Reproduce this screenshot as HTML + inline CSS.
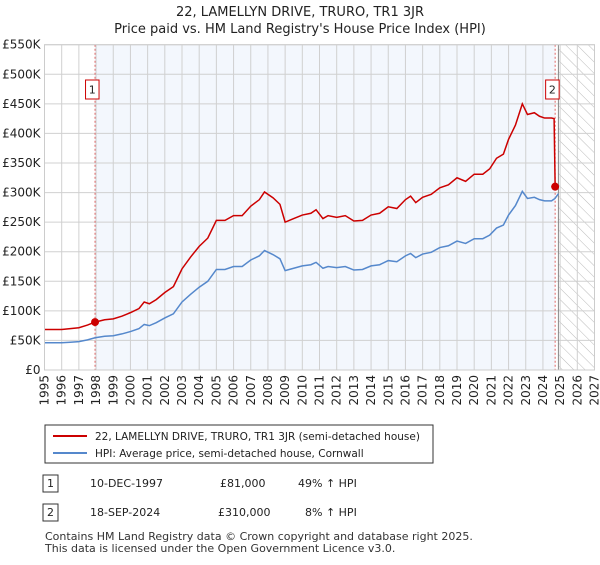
<!DOCTYPE html>
<html><head><meta charset="utf-8"><style>
body{margin:0;width:600px;height:560px;background:#fff;font-family:"Liberation Sans","DejaVu Sans",sans-serif;overflow:hidden}
svg text{font-family:"DejaVu Sans","Liberation Sans",sans-serif}
</style></head><body>
<svg id="c" width="600" height="560">
<defs><pattern id="hatch" width="8" height="8" patternUnits="userSpaceOnUse" patternTransform="rotate(-45)"><line x1="0" y1="0" x2="0" y2="8" stroke="#bbb" stroke-width="1"/></pattern></defs>
<text x="300" y="16" text-anchor="middle" font-size="13" fill="#222">22, LAMELLYN DRIVE, TRURO, TR1 3JR</text>
<text x="300" y="33" text-anchor="middle" font-size="13" fill="#222">Price paid vs. HM Land Registry's House Price Index (HPI)</text>
<g id="plot"></g>
<g>
<rect x="45" y="425" width="388" height="38" fill="#fff" stroke="#333"/>
<line x1="53" y1="436" x2="87" y2="436" stroke="#cc0000" stroke-width="2"/>
<text x="95" y="440" font-size="10.5" fill="#222">22, LAMELLYN DRIVE, TRURO, TR1 3JR (semi-detached house)</text>
<line x1="53" y1="453" x2="87" y2="453" stroke="#5588cc" stroke-width="2"/>
<text x="95" y="457" font-size="10.5" fill="#222">HPI: Average price, semi-detached house, Cornwall</text>
</g>
<g font-size="11" fill="#222">
<rect x="43" y="475" width="15" height="17" fill="#fff" stroke="#333"/><text x="50.5" y="487" text-anchor="middle">1</text>
<text x="90" y="487">10-DEC-1997</text><text x="220" y="487">£81,000</text><text x="298" y="487">49% ↑ HPI</text>
<rect x="43" y="504" width="15" height="17" fill="#fff" stroke="#333"/><text x="50.5" y="516" text-anchor="middle">2</text>
<text x="90" y="516">18-SEP-2024</text><text x="218" y="516">£310,000</text><text x="305" y="516">8% ↑ HPI</text>
</g>
<text x="45" y="540" font-size="11" fill="#333">Contains HM Land Registry data © Crown copyright and database right 2025.</text>
<text x="45" y="552" font-size="11" fill="#333">This data is licensed under the Open Government Licence v3.0.</text>
</svg>
<script>
const hpiYears=[1995,1995.5,1996,1996.5,1997,1997.5,1997.94,1998.5,1999,1999.5,2000,2000.5,2000.8,2001.1,2001.5,2002,2002.5,2003,2003.5,2004,2004.5,2005,2005.5,2006,2006.5,2007,2007.5,2007.8,2008.3,2008.7,2009,2009.5,2010,2010.5,2010.8,2011.2,2011.5,2012,2012.5,2013,2013.5,2014,2014.5,2015,2015.5,2016,2016.3,2016.6,2017,2017.5,2018,2018.5,2019,2019.5,2020,2020.5,2020.9,2021.3,2021.7,2022,2022.4,2022.8,2023.1,2023.5,2023.8,2024.1,2024.5,2024.7,2024.9];
const hpiValues=[46,46,46,47,48,51,54.5,57,58,61,65,70,77,75,80,88,95,115,128,140,150,170,170,175,175,186,193,202,195,188,168,172,176,178,182,172,175,173,175,169,170,176,178,185,183,193,197,190,196,199,207,210,218,214,222,222,228,240,245,262,278,302,290,292,288,286,286,290,298];
const priceYears=[1995,1995.5,1996,1996.5,1997,1997.5,1997.94,1998.5,1999,1999.5,2000,2000.5,2000.8,2001.1,2001.5,2002,2002.5,2003,2003.5,2004,2004.5,2005,2005.5,2006,2006.5,2007,2007.5,2007.8,2008.3,2008.7,2009,2009.5,2010,2010.5,2010.8,2011.2,2011.5,2012,2012.5,2013,2013.5,2014,2014.5,2015,2015.5,2016,2016.3,2016.6,2017,2017.5,2018,2018.5,2019,2019.5,2020,2020.5,2020.9,2021.3,2021.7,2022,2022.4,2022.8,2023.1,2023.5,2023.8,2024.1,2024.5,2024.65,2024.71];
const priceValues=[68.5,68.5,68.5,70,71.5,76,81,85,86.4,91,97,104,115,112,119,131,141,171,191,209,223,253,253,261,261,277,288,301,291,280,250,256,262,265,271,256,261,258,261,252,253,262,265,276,273,288,294,283,292,297,308,313,325,319,331,331,340,358,365,390,414,450,432,435,429,426,426,425,310];
const saleYears=[1997.94,2024.71];
const saleValues=[81,310];
const saleLabels=["1","2"];
const yTicks=[0,50,100,150,200,250,300,350,400,450,500,550];
const yTickLabels=["£0","£50K","£100K","£150K","£200K","£250K","£300K","£350K","£400K","£450K","£500K","£550K"];
const xTicks=[1995,1996,1997,1998,1999,2000,2001,2002,2003,2004,2005,2006,2007,2008,2009,2010,2011,2012,2013,2014,2015,2016,2017,2018,2019,2020,2021,2022,2023,2024,2025,2026,2027];
const X0=44.5,X1=594.5,Y0=370,Y1=44.7,xmin=1995,xmax=2027,ymax=550,forecastStart=2024.9;
const sx=v=>X0+(v-xmin)/(xmax-xmin)*(X1-X0);
const sy=v=>Y0-v/ymax*(Y0-Y1);
const NS="http://www.w3.org/2000/svg";
const g=document.getElementById('plot');
function mk(t,a,p){const e=document.createElementNS(NS,t);for(const k in a)e.setAttribute(k,a[k]);(p||g).appendChild(e);return e;}
let sh=mk('rect',{x:sx(saleYears[0]),y:Y1,width:sx(saleYears[1])-sx(saleYears[0]),height:Y0-Y1,fill:'#eef3fc',opacity:0.7});


let hf=mk('rect',{x:sx(forecastStart),y:Y1,width:X1-sx(forecastStart),height:Y0-Y1,fill:'url(#hatch)'});


xTicks.forEach(t=>{const l=mk('line',{x1:sx(t),x2:sx(t),y1:Y1,y2:Y0,stroke:'#d0d0d0','stroke-width':1});


const tx=mk('text',{x:0,y:0,'font-size':12,fill:'#222','text-anchor':'end',transform:`translate(${sx(t)+4},375) rotate(-90)`});tx.textContent=t;

});
yTicks.forEach((t,i)=>{const l=mk('line',{x1:X0,x2:X1,y1:sy(t),y2:sy(t),stroke:'#d0d0d0','stroke-width':1});


const tx=mk('text',{x:X0-4,y:sy(t)+4,'font-size':12,fill:'#222','text-anchor':'end'});tx.textContent=yTickLabels[i];

});
let fl=mk('line',{x1:sx(forecastStart),x2:sx(forecastStart),y1:Y1,y2:Y0,stroke:'#888','stroke-width':1});


saleYears.forEach((s,i)=>{const l=mk('line',{x1:sx(s),x2:sx(s),y1:Y1,y2:Y0,stroke:'#e06666','stroke-width':1,'stroke-dasharray':'2,2'});

});
let hp=mk('polyline',{points:hpiYears.map((y,i)=>sx(y)+','+sy(hpiValues[i])).join(' '),fill:'none',stroke:'#5588cc','stroke-width':1.5});


let pp=mk('polyline',{points:priceYears.map((y,i)=>sx(y)+','+sy(priceValues[i])).join(' '),fill:'none',stroke:'#cc0000','stroke-width':1.5});


saleYears.forEach((s,i)=>{const c=mk('circle',{cx:sx(s),cy:sy(saleValues[i]),r:4,fill:'#cc0000'});


const bx=sx(s)-9.5;
const r=mk('rect',{x:bx,y:80,width:13.5,height:19,fill:'#fff',stroke:'#cc0000'});


const t=mk('text',{x:bx+6.75,y:93.5,'font-size':11,fill:'#222','text-anchor':'middle'});t.textContent=saleLabels[i];

});
let bd=mk('rect',{x:X0,y:Y1,width:X1-X0,height:Y0-Y1,fill:'none',stroke:'#ccc'});


</script>
</body></html>
